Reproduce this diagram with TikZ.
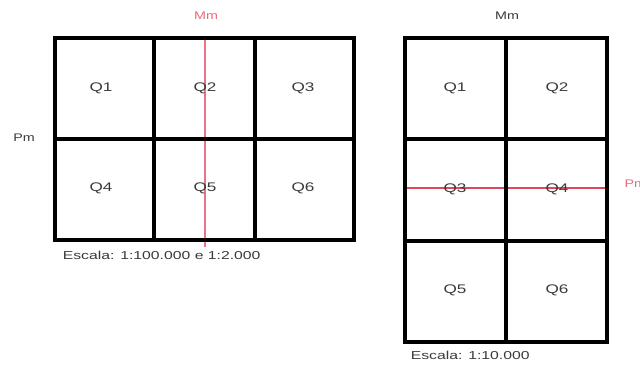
\documentclass[tikz,border=0pt]{standalone}
\usepackage{fontspec}
\setmainfont{Liberation Sans}
\usetikzlibrary{positioning}
\definecolor{corte}{HTML}{E0465C}
\definecolor{textogray}{HTML}{3A3A3A}

\begin{document}
\begin{tikzpicture}[x=1pt,y=-1pt,
  grade/.style={line width=3.6pt,black},
  linhacorte/.style={corte,line width=1.1pt},
  quad/.style={text=textogray,font=\fontsize{12.5}{14}\selectfont,xscale=1.37},
  esc/.style={text=textogray,font=\fontsize{11.5}{13}\selectfont,xscale=1.37,anchor=west},
  eixo/.style={font=\fontsize{11}{13}\selectfont,xscale=1.3}]
\useasboundingbox (0,0) rectangle (640,365);
\fill[white] (0,0) rectangle (640,365);
\coordinate (cv1) at (205,37); \coordinate (cv2) at (205,247);
\draw[linhacorte,line width=2pt,corte!75] (cv1) -- (cv2);
\draw[grade] (55,38) rectangle (354,240);
\draw[grade] (154,38) -- (154,240);
\draw[grade] (255,38) -- (255,240);
\draw[grade] (55,139) -- (354,139);
\node[quad] (l1) at (101,88) {Q1};
\node[quad] (l2) at (205,88) {Q2};
\node[quad] (l3) at (303,88) {Q3};
\node[quad] (l4) at (101,188) {Q4};
\node[quad] (l5) at (205,188) {Q5};
\node[quad] (l6) at (303,188) {Q6};
\node[eixo,text=corte!80] (mmL) at (206,16) {Mm};
\node[eixo,text=textogray] (pmL) at (24,138) {Pm};
\node[esc] (escL) at (58,255) {Escala: 1:100.000 e 1:2.000};
\coordinate (ch1) at (404,188); \coordinate (ch2) at (609,188);
\draw[linhacorte] (ch1) -- (ch2);
\draw[grade] (405,38) rectangle (607,342);
\draw[grade] (506,38) -- (506,342);
\draw[grade] (405,139) -- (607,139);
\draw[grade] (405,241) -- (607,241);
\node[quad] (r1) at (455,88) {Q1};
\node[quad] (r2) at (557,88) {Q2};
\node[quad] (r3) at (455,189) {Q3};
\node[quad] (r4) at (557,189) {Q4};
\node[quad] (r5) at (455,290) {Q5};
\node[quad] (r6) at (557,290) {Q6};
\node[eixo,text=textogray] (mmR) at (507,16) {Mm};
\node[eixo,text=corte!80,anchor=west] (pmR) at (620,184) {Pm};
\node[esc] (escR) at (406,355) {Escala: 1:10.000};
\end{tikzpicture}
\end{document}
